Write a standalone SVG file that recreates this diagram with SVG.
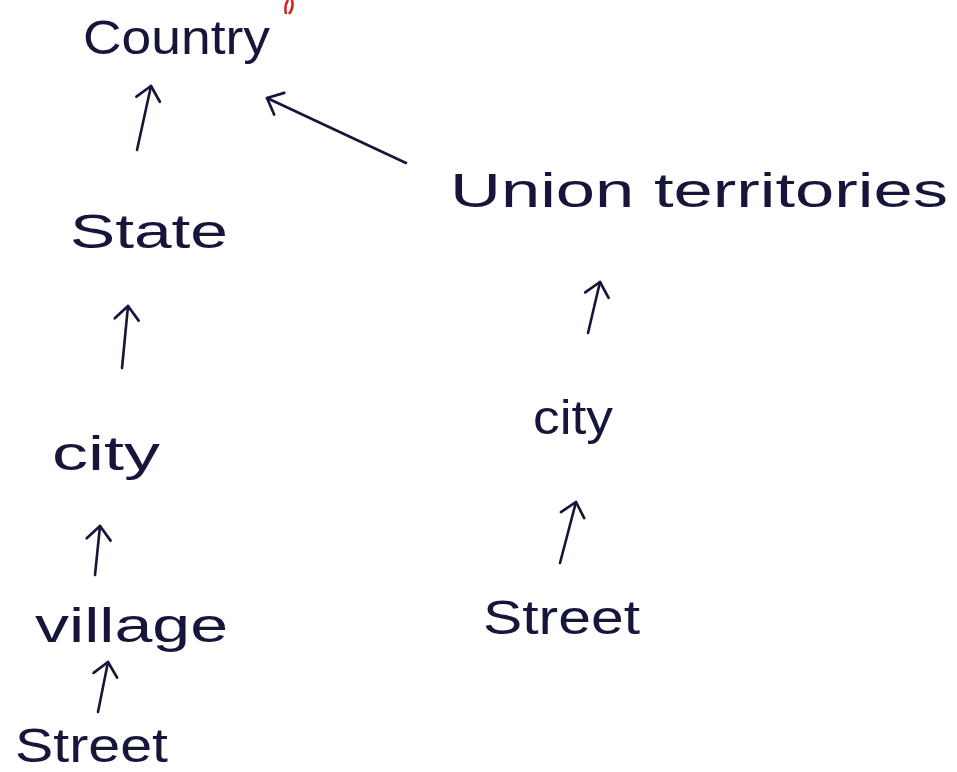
<svg xmlns="http://www.w3.org/2000/svg" width="957" height="772" viewBox="0 0 957 772">
<defs>
<style>
.lbl{font-family:"Liberation Sans","DejaVu Sans",sans-serif;font-size:48px;fill:#16163a;}
.edge{stroke:#16163a;stroke-width:2.6;fill:none;stroke-linecap:round;stroke-linejoin:round;}
</style>
<marker id="ah" viewBox="0 0 20 20" refX="18" refY="10" markerWidth="30" markerHeight="30" markerUnits="userSpaceOnUse" orient="auto">
<path d="M9,2 L18,10 L9,18" fill="none" stroke="#16163a" stroke-width="1.8" stroke-linecap="round" stroke-linejoin="round"/>
</marker>
</defs>
<rect width="957" height="772" fill="#ffffff"/>
<path d="M286,14 Q284,6 288,0 M292,0 Q294,8 289,14" stroke="#d02020" stroke-width="2.5" fill="none"/>
<g id="country"><text class="lbl" x="83" y="54" textLength="187" lengthAdjust="spacingAndGlyphs">Country</text></g>
<g id="state"><text class="lbl" x="70" y="248" textLength="158" lengthAdjust="spacingAndGlyphs">State</text></g>
<g id="city-left"><text class="lbl" x="52" y="470" textLength="108" lengthAdjust="spacingAndGlyphs">city</text></g>
<g id="village"><text class="lbl" x="35" y="642" textLength="193" lengthAdjust="spacingAndGlyphs">village</text></g>
<g id="street-left"><text class="lbl" x="15" y="762" textLength="153" lengthAdjust="spacingAndGlyphs">Street</text></g>
<g id="union-territories"><text class="lbl" x="450" y="207" textLength="498" lengthAdjust="spacingAndGlyphs">Union territories</text></g>
<g id="city-right"><text class="lbl" x="533" y="434" textLength="80" lengthAdjust="spacingAndGlyphs">city</text></g>
<g id="street-right"><text class="lbl" x="483" y="634" textLength="157" lengthAdjust="spacingAndGlyphs">Street</text></g>
<g id="connectors">
<path class="edge" d="M137,150 L151,86" marker-end="url(#ah)"/>
<path class="edge" d="M406,163 L267,98" marker-end="url(#ah)"/>
<path class="edge" d="M122,368 L128,306" marker-end="url(#ah)"/>
<path class="edge" d="M95,575 L100,526" marker-end="url(#ah)"/>
<path class="edge" d="M98,712 L108,662" marker-end="url(#ah)"/>
<path class="edge" d="M588,333 L600,282" marker-end="url(#ah)"/>
<path class="edge" d="M560,563 L576,502" marker-end="url(#ah)"/>
</g>
</svg>
